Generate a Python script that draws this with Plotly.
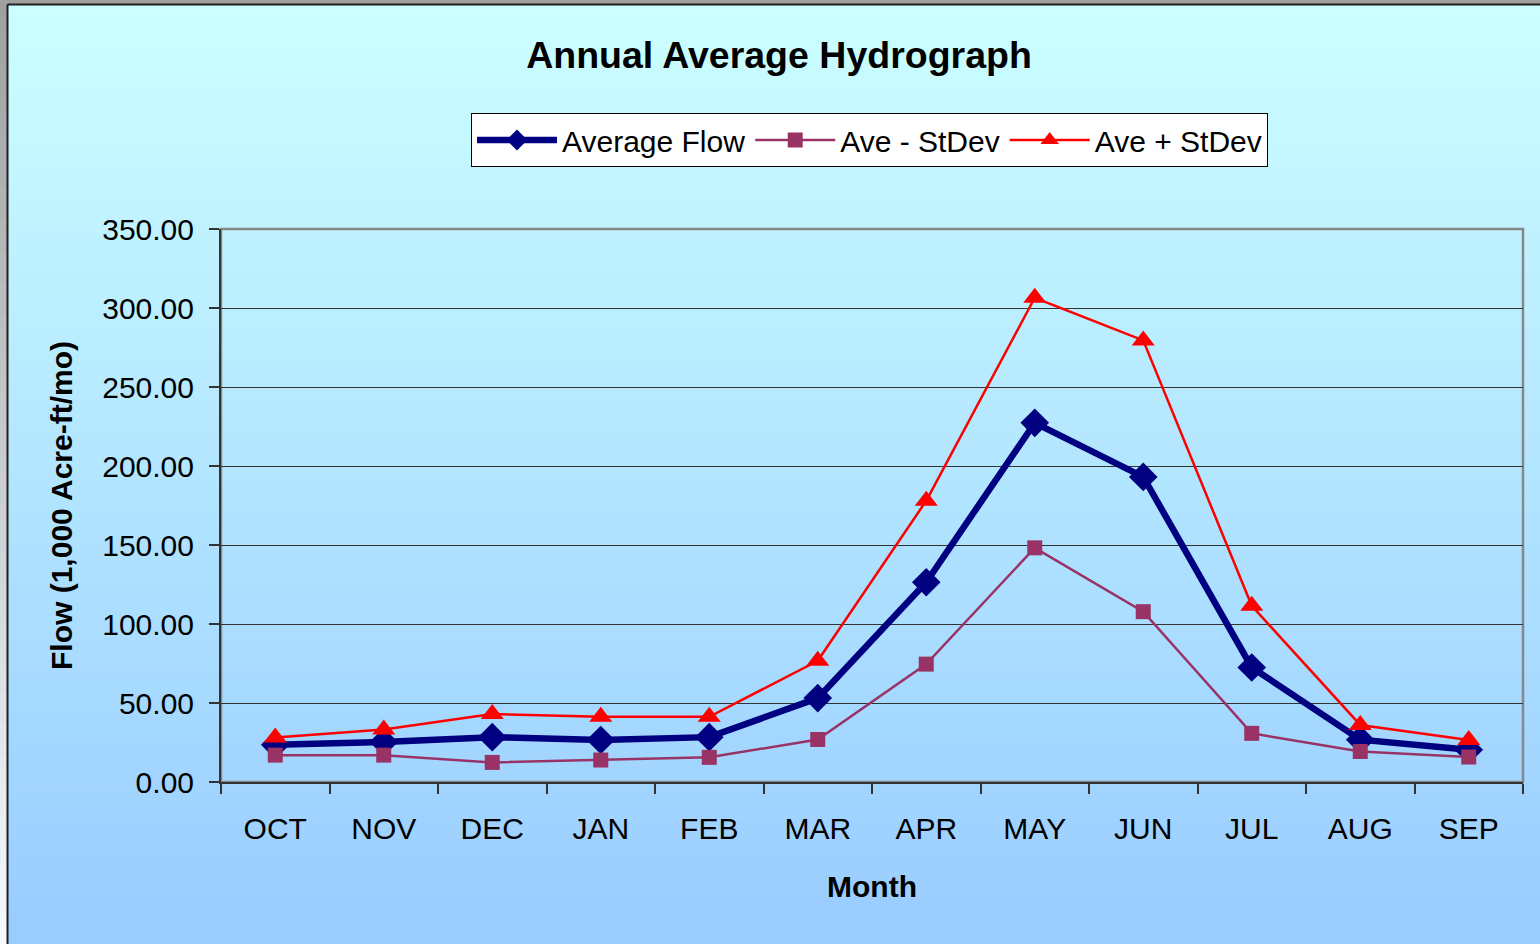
import plotly.graph_objects as go

months = ["OCT", "NOV", "DEC", "JAN", "FEB", "MAR", "APR", "MAY", "JUN", "JUL", "AUG", "SEP"]
average_flow = [23.5, 25.3, 28.4, 26.6, 28.4, 53.1, 126.4, 227.3, 193.1, 72.5, 26.8, 20.4]
ave_minus_sd = [17.0, 17.0, 12.4, 13.9, 15.6, 26.9, 74.6, 148.2, 107.8, 30.8, 19.3, 15.8]
ave_plus_sd = [28.2, 33.3, 43.0, 41.3, 41.3, 76.7, 178.0, 306.5, 279.5, 111.5, 36.1, 26.6]

W, H = 1540, 944
L, R, T, B = 221, 1523, 229, 782  # plot area in pixels


def fx(p):
    return (p - L) / (R - L)


def fy(p):
    return (B - p) / (B - T)


FONT = "Arial, 'Liberation Sans', sans-serif"

fig = go.Figure()
fig.add_trace(go.Scatter(
    x=months, y=average_flow, name="Average Flow", mode="lines+markers",
    line=dict(color="#000080", width=6.5),
    marker=dict(symbol="diamond", size=22, color="#000080"),
))
fig.add_trace(go.Scatter(
    x=months, y=ave_minus_sd, name="Ave - StDev", mode="lines+markers",
    line=dict(color="#993366", width=2.5),
    marker=dict(symbol="square", size=15, color="#993366"),
))
fig.add_trace(go.Scatter(
    x=months, y=ave_plus_sd, name="Ave + StDev", mode="lines+markers",
    line=dict(color="#FF0000", width=2.5),
    marker=dict(symbol="triangle-up", size=20, color="#FF0000"),
))

shapes = []
# outer gray frame
shapes.append(dict(type="rect", xref="paper", yref="paper", x0=fx(0), x1=fx(W), y0=fy(H), y1=fy(0),
                   fillcolor="#a0a0a0", line=dict(width=0), layer="below"))
# left strip gradient (gray -> near white)
n = 60
for i in range(n):
    y0p = H * i / n
    y1p = H * (i + 1) / n + 1
    t = i / (n - 1)
    c = (int(160 + 85 * t), int(160 + 90 * t), int(160 + 95 * t))
    shapes.append(dict(type="rect", xref="paper", yref="paper", x0=fx(0), x1=fx(8),
                       y0=fy(y1p), y1=fy(y0p), fillcolor="rgb(%d,%d,%d)" % c,
                       line=dict(width=0), layer="below"))
# main background gradient
top, bot = 5, H
n = 160
for i in range(n):
    y0p = top + (bot - top) * i / n
    y1p = top + (bot - top) * (i + 1) / n + 1
    t = i / (n - 1)
    c = (int(round(204 - 51 * t)), int(round(255 - 51 * t)), 255)
    shapes.append(dict(type="rect", xref="paper", yref="paper", x0=fx(8), x1=fx(W),
                       y0=fy(y1p), y1=fy(y0p), fillcolor="rgb(%d,%d,%d)" % c,
                       line=dict(width=0), layer="below"))
# dark frame lines
shapes.append(dict(type="line", xref="paper", yref="paper", x0=fx(7.5), x1=fx(7.5), y0=fy(H), y1=fy(4.5),
                   line=dict(color="#202020", width=2), layer="below"))
shapes.append(dict(type="line", xref="paper", yref="paper", x0=fx(7.5), x1=fx(W), y0=fy(4.5), y1=fy(4.5),
                   line=dict(color="#202020", width=2), layer="below"))
# plot area border (gray)
shapes.append(dict(type="rect", xref="paper", yref="paper", x0=0, x1=1, y0=0, y1=1,
                   line=dict(color="#888888", width=2.5), layer="below"))

fig.update_layout(
    width=W, height=H, autosize=False,
    margin=dict(l=L, r=W - R, t=T, b=H - B, pad=0),
    paper_bgcolor="#ccffff", plot_bgcolor="rgba(0,0,0,0)",
    shapes=shapes,
    font=dict(family=FONT, color="black"),
    title=dict(text="<b>Annual Average Hydrograph</b>", xref="container", yref="container",
               x=779 / W, y=1 - 55 / H, xanchor="center", yanchor="middle",
               font=dict(size=37.5, family=FONT, color="black")),
    showlegend=True,
    legend=dict(orientation="h", xref="paper", yref="paper",
                x=fx(869.5), y=fy(113), xanchor="center", yanchor="top",
                bgcolor="white", bordercolor="black", borderwidth=1,
                font=dict(size=30, family=FONT, color="black"),
                traceorder="normal", itemwidth=80),
    xaxis=dict(
        type="category", range=[-0.5, 11.5], tickson="boundaries",
        ticks="outside", ticklen=10, tickwidth=1.5, tickcolor="#333333",
        showline=True, linecolor="#333333", linewidth=2,
        showgrid=False, zeroline=False,
        tickfont=dict(size=30, family=FONT, color="black"),
        ticklabelstandoff=19,
        title=dict(text="<b>Month</b>", standoff=32, font=dict(size=30, family=FONT, color="black")),
    ),
    yaxis=dict(
        range=[0, 350], dtick=50, tick0=0, tickformat=".2f",
        ticks="outside", ticklen=10, tickwidth=1.5, tickcolor="#333333",
        showline=True, linecolor="#333333", linewidth=2,
        showgrid=True, gridcolor="#333333", gridwidth=1, zeroline=False,
        tickfont=dict(size=30, family=FONT, color="black"),
        ticklabelstandoff=9,
        title=dict(text="<b>Flow (1,000 Acre-ft/mo)</b>", standoff=21,
                   font=dict(size=30, family=FONT, color="black")),
    ),
)

fig.write_html("out.html", config={"displayModeBar": False},
               post_script="document.body.style.margin='0';document.body.style.overflow='hidden';")
